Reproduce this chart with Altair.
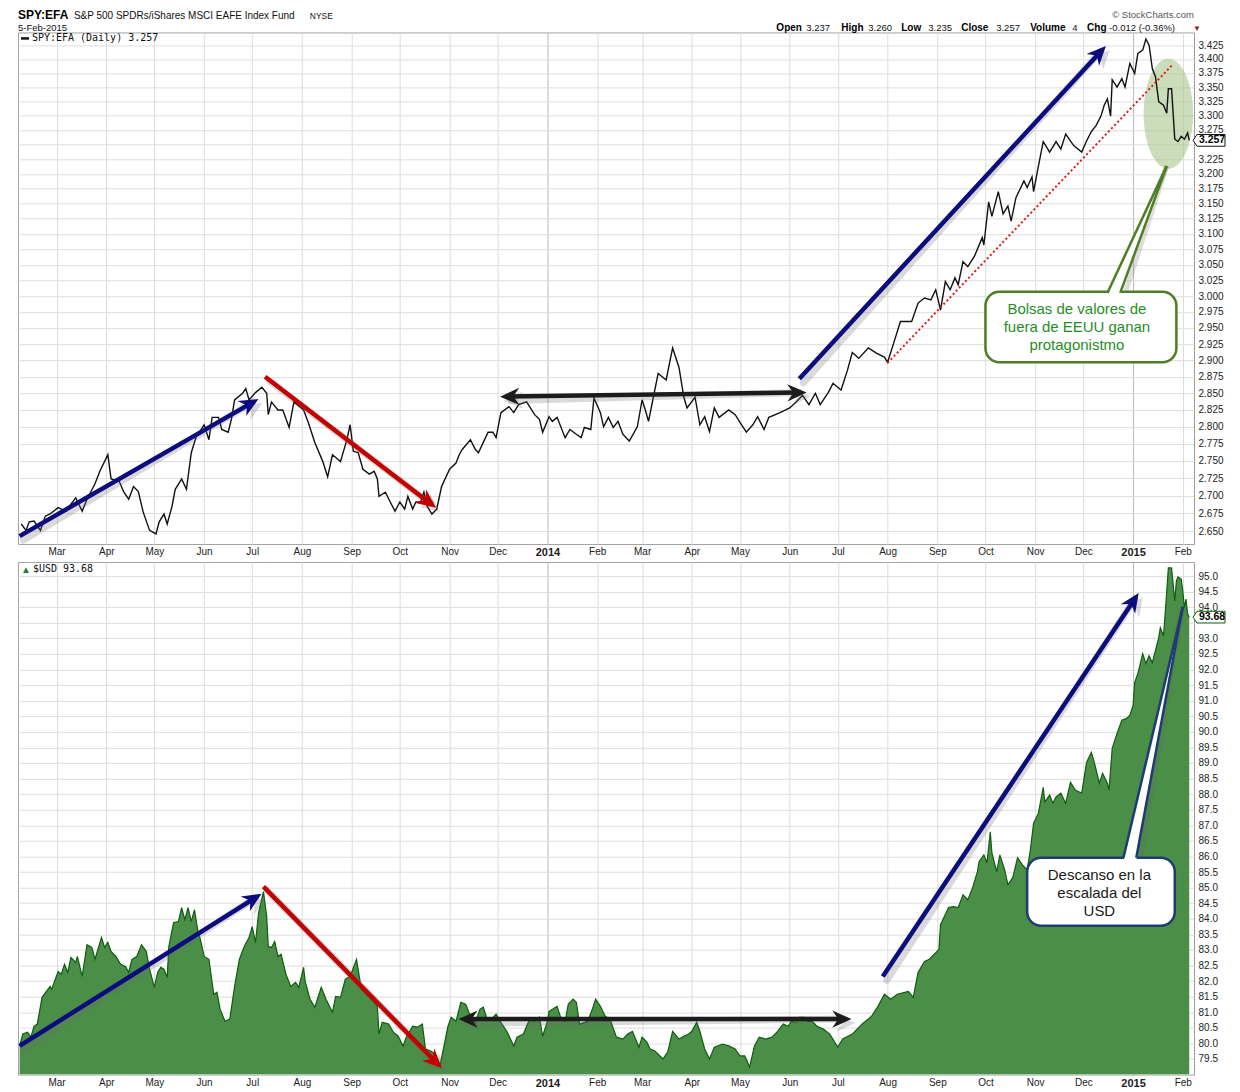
import altair as alt
import pandas as pd

# ------------------------------------------------------------------
# Values
# ------------------------------------------------------------------
spy_efa_dates = [
    "2013-02-07", "2013-02-10", "2013-02-12", "2013-02-15", "2013-02-19", "2013-02-22", "2013-02-25",
    "2013-03-02", "2013-03-07", "2013-03-10", "2013-03-13", "2013-03-17", "2013-03-20", "2013-03-25", "2013-03-28",
    "2013-04-02", "2013-04-04", "2013-04-09", "2013-04-12", "2013-04-15", "2013-04-18", "2013-04-21", "2013-04-24", "2013-04-28",
    "2013-05-02", "2013-05-04", "2013-05-07", "2013-05-09", "2013-05-12", "2013-05-14", "2013-05-18", "2013-05-21", "2013-05-24", "2013-05-27",
    "2013-06-01", "2013-06-04", "2013-06-06", "2013-06-10", "2013-06-12", "2013-06-16", "2013-06-18", "2013-06-20", "2013-06-25", "2013-06-27", "2013-06-29",
    "2013-07-03", "2013-07-07", "2013-07-10", "2013-07-11", "2013-07-13", "2013-07-17", "2013-07-20", "2013-07-24", "2013-07-27",
    "2013-08-02", "2013-08-05", "2013-08-09", "2013-08-14", "2013-08-17", "2013-08-20", "2013-08-25", "2013-08-29", "2013-08-31",
    "2013-09-02", "2013-09-05", "2013-09-08", "2013-09-12", "2013-09-15", "2013-09-17", "2013-09-18", "2013-09-22", "2013-09-25", "2013-09-28",
    "2013-10-01", "2013-10-04", "2013-10-06", "2013-10-09", "2013-10-11", "2013-10-14", "2013-10-16", "2013-10-18", "2013-10-21", "2013-10-24", "2013-10-27",
    "2013-11-01", "2013-11-05", "2013-11-07", "2013-11-09", "2013-11-14", "2013-11-17", "2013-11-19", "2013-11-22", "2013-11-25", "2013-11-28", "2013-11-30",
    "2013-12-03", "2013-12-08", "2013-12-11", "2013-12-14", "2013-12-19", "2013-12-24", "2013-12-27", "2013-12-29",
    "2014-01-02", "2014-01-04", "2014-01-07", "2014-01-12", "2014-01-15", "2014-01-19", "2014-01-22", "2014-01-24", "2014-01-28", "2014-01-30",
    "2014-02-03", "2014-02-05", "2014-02-08", "2014-02-11", "2014-02-14", "2014-02-17", "2014-02-21", "2014-02-26",
    "2014-03-01", "2014-03-03", "2014-03-05", "2014-03-08", "2014-03-11", "2014-03-16", "2014-03-20", "2014-03-24", "2014-03-27", "2014-03-29",
    "2014-04-03", "2014-04-06", "2014-04-09", "2014-04-12", "2014-04-15", "2014-04-18", "2014-04-24", "2014-04-28",
    "2014-05-02", "2014-05-05", "2014-05-09", "2014-05-12", "2014-05-16", "2014-05-19", "2014-05-26",
    "2014-06-01", "2014-06-05", "2014-06-09", "2014-06-13", "2014-06-17", "2014-06-20", "2014-06-25", "2014-06-28",
    "2014-07-03", "2014-07-07", "2014-07-10", "2014-07-14", "2014-07-20", "2014-07-25", "2014-07-30",
    "2014-08-01", "2014-08-05", "2014-08-09", "2014-08-16", "2014-08-20", "2014-08-24", "2014-08-28", "2014-08-31",
    "2014-09-03", "2014-09-06", "2014-09-09", "2014-09-12", "2014-09-14", "2014-09-17", "2014-09-20", "2014-09-24", "2014-09-29", "2014-09-30",
    "2014-10-03", "2014-10-05", "2014-10-09", "2014-10-12", "2014-10-15", "2014-10-17", "2014-10-20", "2014-10-25", "2014-10-27", "2014-10-30", "2014-10-31",
    "2014-11-03", "2014-11-06", "2014-11-10", "2014-11-14", "2014-11-17", "2014-11-20", "2014-11-25", "2014-11-30",
    "2014-12-03", "2014-12-06", "2014-12-09", "2014-12-12", "2014-12-14", "2014-12-16", "2014-12-18", "2014-12-19", "2014-12-22", "2014-12-25", "2014-12-27", "2014-12-30",
    "2015-01-02", "2015-01-04", "2015-01-07", "2015-01-09", "2015-01-11", "2015-01-13", "2015-01-15", "2015-01-17", "2015-01-20", "2015-01-22", "2015-01-23", "2015-01-25", "2015-01-27", "2015-01-29", "2015-01-31",
    "2015-02-02", "2015-02-04", "2015-02-05",
]
spy_efa_values = [
    2.660, 2.651, 2.663, 2.664, 2.651, 2.671, 2.674,
    2.683, 2.678, 2.688, 2.697, 2.678, 2.695, 2.717, 2.735,
    2.759, 2.724, 2.721, 2.705, 2.695, 2.713, 2.706, 2.677, 2.651,
    2.646, 2.663, 2.674, 2.660, 2.685, 2.709, 2.724, 2.709, 2.762, 2.785,
    2.803, 2.781, 2.814, 2.814, 2.796, 2.792, 2.811, 2.840, 2.850, 2.857, 2.840,
    2.851, 2.859, 2.850, 2.818, 2.837, 2.825, 2.825, 2.799, 2.837,
    2.825, 2.806, 2.777, 2.749, 2.727, 2.759, 2.749, 2.781, 2.803,
    2.764, 2.762, 2.738, 2.731, 2.735, 2.724, 2.699, 2.705, 2.691, 2.678,
    2.691, 2.681, 2.699, 2.681, 2.691, 2.691, 2.705, 2.685, 2.674, 2.681, 2.713,
    2.738, 2.747, 2.759, 2.767, 2.781, 2.767, 2.762, 2.777, 2.792, 2.792, 2.784,
    2.821, 2.830, 2.821, 2.833, 2.837, 2.818, 2.811, 2.792,
    2.815, 2.808, 2.814, 2.784, 2.796, 2.789, 2.784, 2.799, 2.796, 2.843,
    2.821, 2.800, 2.814, 2.799, 2.808, 2.789, 2.779, 2.800,
    2.840, 2.825, 2.808, 2.844, 2.880, 2.870, 2.919, 2.889, 2.844, 2.828,
    2.844, 2.803, 2.815, 2.793, 2.828, 2.814, 2.825, 2.818,
    2.803, 2.792, 2.803, 2.815, 2.796, 2.814, 2.821,
    2.828, 2.837, 2.847, 2.833, 2.850, 2.833, 2.851, 2.865,
    2.855, 2.885, 2.912, 2.903, 2.919, 2.911, 2.905,
    2.897, 2.928, 2.960, 2.960, 2.989, 2.997, 2.994, 3.010,
    2.978, 3.023, 3.010, 3.029, 3.018, 3.055, 3.047, 3.063, 3.094, 3.082,
    3.153, 3.129, 3.170, 3.133, 3.146, 3.121, 3.160, 3.188, 3.177, 3.195, 3.170,
    3.213, 3.255, 3.237, 3.255, 3.242, 3.268, 3.248, 3.237,
    3.256, 3.272, 3.283, 3.299, 3.318, 3.329, 3.299, 3.363, 3.350, 3.365, 3.350, 3.392,
    3.374, 3.410, 3.416, 3.436, 3.425, 3.383, 3.368, 3.324, 3.318, 3.304, 3.347, 3.347, 3.259, 3.255, 3.264,
    3.259, 3.270, 3.257,
]

usd_dates = [
    "2013-02-06", "2013-02-08", "2013-02-11", "2013-02-13", "2013-02-15", "2013-02-17", "2013-02-20", "2013-02-25", "2013-02-26",
    "2013-03-02", "2013-03-04", "2013-03-06", "2013-03-08", "2013-03-10", "2013-03-13", "2013-03-14", "2013-03-17", "2013-03-20", "2013-03-23", "2013-03-25", "2013-03-29", "2013-03-31",
    "2013-04-02", "2013-04-04", "2013-04-07", "2013-04-10", "2013-04-13", "2013-04-15", "2013-04-17", "2013-04-20", "2013-04-23", "2013-04-26", "2013-04-28",
    "2013-05-01", "2013-05-03", "2013-05-05", "2013-05-07", "2013-05-09", "2013-05-10", "2013-05-13", "2013-05-16", "2013-05-18", "2013-05-20", "2013-05-22", "2013-05-24", "2013-05-26", "2013-05-28", "2013-05-30",
    "2013-06-01", "2013-06-04", "2013-06-07", "2013-06-09", "2013-06-11", "2013-06-14", "2013-06-17", "2013-06-20", "2013-06-23", "2013-06-26", "2013-06-29",
    "2013-07-01", "2013-07-03", "2013-07-05", "2013-07-08", "2013-07-10", "2013-07-11", "2013-07-13", "2013-07-15", "2013-07-17", "2013-07-19", "2013-07-22", "2013-07-25", "2013-07-28", "2013-07-30",
    "2013-08-02", "2013-08-03", "2013-08-06", "2013-08-09", "2013-08-13", "2013-08-16", "2013-08-20", "2013-08-22", "2013-08-25", "2013-08-28", "2013-08-31",
    "2013-09-04", "2013-09-07", "2013-09-10", "2013-09-13", "2013-09-17", "2013-09-18", "2013-09-20", "2013-09-24", "2013-09-27", "2013-09-30",
    "2013-10-03", "2013-10-05", "2013-10-09", "2013-10-12", "2013-10-15", "2013-10-17", "2013-10-20", "2013-10-23", "2013-10-26", "2013-10-31",
    "2013-11-02", "2013-11-05", "2013-11-08", "2013-11-11", "2013-11-14", "2013-11-17", "2013-11-20", "2013-11-22", "2013-11-24", "2013-11-27", "2013-11-30",
    "2013-12-03", "2013-12-07", "2013-12-11", "2013-12-13", "2013-12-17", "2013-12-19", "2013-12-21", "2013-12-24", "2013-12-27", "2013-12-29",
    "2014-01-01", "2014-01-02", "2014-01-07", "2014-01-09", "2014-01-12", "2014-01-14", "2014-01-17", "2014-01-19", "2014-01-21", "2014-01-26", "2014-01-29", "2014-01-31",
    "2014-02-03", "2014-02-06", "2014-02-09", "2014-02-13", "2014-02-17", "2014-02-20", "2014-02-23", "2014-02-27",
    "2014-03-01", "2014-03-04", "2014-03-06", "2014-03-09", "2014-03-14", "2014-03-17", "2014-03-20", "2014-03-24", "2014-03-27", "2014-03-30",
    "2014-04-01", "2014-04-04", "2014-04-06", "2014-04-09", "2014-04-12", "2014-04-15", "2014-04-20", "2014-04-24", "2014-04-28",
    "2014-05-01", "2014-05-04", "2014-05-07", "2014-05-10", "2014-05-13", "2014-05-17", "2014-05-21", "2014-05-24", "2014-05-28", "2014-05-31",
    "2014-06-02", "2014-06-05", "2014-06-07", "2014-06-10", "2014-06-12", "2014-06-15", "2014-06-18", "2014-06-22", "2014-06-26", "2014-06-29",
    "2014-07-01", "2014-07-04", "2014-07-10", "2014-07-16", "2014-07-22", "2014-07-26", "2014-07-30",
    "2014-08-03", "2014-08-07", "2014-08-14", "2014-08-17", "2014-08-20", "2014-08-24", "2014-08-27", "2014-08-30",
    "2014-09-02", "2014-09-03", "2014-09-08", "2014-09-11", "2014-09-14", "2014-09-17", "2014-09-20", "2014-09-23", "2014-09-26", "2014-09-27", "2014-09-30",
    "2014-10-02", "2014-10-04", "2014-10-05", "2014-10-08", "2014-10-10", "2014-10-13", "2014-10-15", "2014-10-18", "2014-10-21", "2014-10-24", "2014-10-27", "2014-10-29", "2014-10-31",
    "2014-11-03", "2014-11-06", "2014-11-07", "2014-11-10", "2014-11-12", "2014-11-14", "2014-11-17", "2014-11-20", "2014-11-23", "2014-11-26", "2014-11-30",
    "2014-12-03", "2014-12-06", "2014-12-08", "2014-12-11", "2014-12-13", "2014-12-16", "2014-12-17", "2014-12-19", "2014-12-22", "2014-12-25", "2014-12-28", "2014-12-30",
    "2015-01-01", "2015-01-02", "2015-01-04", "2015-01-07", "2015-01-09", "2015-01-11", "2015-01-13", "2015-01-17", "2015-01-18", "2015-01-20", "2015-01-22", "2015-01-23", "2015-01-25", "2015-01-27", "2015-01-28", "2015-01-29", "2015-01-31",
    "2015-02-01", "2015-02-02", "2015-02-03", "2015-02-04", "2015-02-05",
]
usd_values = [
    79.92, 80.30, 80.36, 80.20, 80.55, 80.62, 81.48, 81.83, 81.74,
    82.31, 82.22, 82.54, 82.28, 82.76, 82.60, 82.79, 82.15, 83.17, 83.08, 82.70, 83.40, 83.08,
    83.24, 82.95, 82.79, 82.54, 82.47, 82.28, 82.70, 82.79, 83.17, 82.95, 82.38,
    81.80, 82.28, 82.44, 82.38, 82.12, 83.11, 83.88, 83.91, 84.36, 83.97, 84.36, 83.91, 84.29, 83.65, 83.27,
    82.79, 82.70, 81.58, 81.64, 81.10, 80.71, 80.78, 81.83, 82.70, 83.11, 83.40,
    83.75, 83.24, 84.20, 84.87, 84.07, 83.11, 83.08, 83.27, 82.79, 82.86, 82.22, 81.83, 81.96, 81.80,
    82.44, 81.99, 81.42, 81.16, 81.80, 81.42, 81.00, 81.51, 81.48, 82.06, 82.15,
    82.70, 81.74, 81.58, 81.42, 81.19, 80.30, 80.68, 80.62, 80.36, 80.23,
    79.92, 80.20, 80.55, 80.52, 80.62, 79.82, 79.76, 79.66, 79.28, 80.55,
    80.84, 80.71, 81.32, 81.26, 80.87, 80.68, 81.10, 81.16, 80.84, 80.78, 80.94,
    80.68, 80.36, 79.92, 80.20, 80.30, 80.55, 80.78, 80.71, 80.84, 80.23,
    80.71, 81.03, 81.19, 80.87, 80.71, 81.26, 81.42, 81.32, 80.62, 80.71, 81.10, 81.42,
    81.19, 80.87, 80.78, 80.20, 80.14, 80.30, 80.39, 79.88,
    80.20, 80.04, 79.82, 79.76, 79.50, 79.73, 80.39, 80.14, 80.23, 80.30,
    80.39, 80.68, 80.39, 79.82, 79.50, 79.88, 79.98, 79.92, 79.82,
    79.60, 79.60, 79.24, 79.92, 80.20, 80.14, 80.20, 80.36, 80.62, 80.55,
    80.71, 80.68, 80.84, 80.84, 80.71, 80.71, 80.55, 80.46, 80.30, 80.04,
    79.88, 80.14, 80.30, 80.62, 80.87, 81.19, 81.58,
    81.42, 81.58, 81.67, 81.48, 82.28, 82.63, 82.70, 82.86,
    83.02, 83.81, 84.36, 84.39, 84.36, 84.77, 84.61, 85.00, 85.51, 85.83, 86.05,
    85.80, 86.79, 86.12, 85.51, 86.05, 85.57, 85.09, 85.32, 85.96, 85.73, 85.57, 86.21, 87.07,
    87.39, 88.22, 87.75, 87.97, 87.71, 87.91, 88.03, 87.71, 88.38, 88.13, 88.03,
    89.02, 89.34, 88.99, 88.35, 88.67, 88.35, 88.13, 89.47, 89.95, 90.37, 90.43, 90.53,
    90.85, 91.58, 91.87, 92.51, 92.19, 92.44, 92.22, 93.02, 93.34, 93.08, 94.52, 95.26, 95.26, 94.20, 94.84, 94.97, 94.90,
    94.52, 93.98, 94.26, 93.79, 93.68,
]

spy_efa_last = 3.257
usd_last = 93.68

spy_efa_ticks = [2.650, 2.675, 2.700, 2.725, 2.750, 2.775, 2.800, 2.825, 2.850, 2.875,
                 2.900, 2.925, 2.950, 2.975, 3.000, 3.025, 3.050, 3.075, 3.100, 3.125,
                 3.150, 3.175, 3.200, 3.225, 3.250, 3.275, 3.300, 3.325, 3.350, 3.375,
                 3.400, 3.425]
usd_ticks = [79.5, 80.0, 80.5, 81.0, 81.5, 82.0, 82.5, 83.0, 83.5, 84.0, 84.5, 85.0,
             85.5, 86.0, 86.5, 87.0, 87.5, 88.0, 88.5, 89.0, 89.5, 90.0, 90.5, 91.0,
             91.5, 92.0, 92.5, 93.0, 93.5, 94.0, 94.5, 95.0]
# tick labels hidden behind the last-value tags in the reference
spy_efa_hidden_label = 3.250
usd_hidden_label = 93.5

# ---- annotations (data coordinates) ----
top_arrow_from_dates = ["2013-02-06", "2013-07-09", "2013-12-07", "2014-06-07"]
top_arrow_from_vals = [2.643, 2.875, 2.845, 2.872]
top_arrow_to_dates = ["2013-07-01", "2013-10-20", "2014-06-07", "2014-12-12"]
top_arrow_to_vals = [2.836, 2.689, 2.851, 3.414]
top_head_dates = ["2013-07-01", "2013-10-20", "2014-06-07", "2013-12-07", "2014-12-12"]
top_head_vals = [2.836, 2.689, 2.851, 2.845, 3.414]
top_head_angles = [60, 127, 89, 269, 43]

top_trend_dates = ["2014-08-01", "2015-01-26"]
top_trend_vals = [2.896, 3.391]

top_ellipse_date = "2015-01-23"
top_ellipse_val = 3.303

top_box_dates = ["2014-10-01", "2015-01-28"]
top_box_vals = [3.007, 2.897]
top_text_date = "2014-11-27"
top_text_vals = [2.979, 2.951, 2.923]
top_text_lines = ["Bolsas de valores de", "fuera de EEUU ganan", "protagonistmo"]
top_tail_dates = ["2014-12-16", "2014-12-24", "2015-01-22"]
top_tail_hi = [3.000, 3.046, 3.213]
top_tail_lo = [3.000, 3.000, 3.213]
top_tail_edge_base = 3.005

bot_arrow_from_dates = ["2013-02-06", "2013-07-08", "2013-11-11", "2014-07-29"]
bot_arrow_from_vals = [79.92, 85.03, 80.78, 82.15]
bot_arrow_to_dates = ["2013-07-03", "2013-10-24", "2014-07-05", "2015-01-02"]
bot_arrow_to_vals = [84.68, 79.37, 80.78, 94.26]
bot_head_dates = ["2013-07-03", "2013-10-24", "2014-07-05", "2013-11-11", "2015-01-02"]
bot_head_vals = [84.68, 79.37, 80.78, 80.78, 94.26]
bot_head_angles = [58, 135, 90, 270, 34]

bot_box_dates = ["2014-10-27", "2015-01-27"]
bot_box_vals = [85.96, 83.78]
bot_text_date = "2014-12-11"
bot_text_vals = [85.41, 84.84, 84.26]
bot_text_lines = ["Descanso en la", "escalada del", "USD"]
bot_tail_dates = ["2014-12-26", "2015-01-03", "2015-02-01"]
bot_tail_hi = [85.86, 87.62, 94.01]
bot_tail_lo = [85.86, 85.86, 94.01]
bot_tail_edge_base = 85.96

# ------------------------------------------------------------------
# Styling / layout
# ------------------------------------------------------------------
FONT = "Liberation Sans"
MONO = "DejaVu Sans Mono"
W = 1177
H_TOP = 512
H_BOT = 513
NAVY = "#0c0c7e"
RED = "#c40000"
BLACK = "#1c1c1c"
SHADOW = "#6a6a6a"
AREA_FILL = "#4a8e47"
AREA_LINE = "#0f5e0f"


def ms(d):
    return int(pd.Timestamp(d, tz="UTC").value // 10**6)


X_SCALE = alt.Scale(type="utc", domain=[ms("2013-02-05"), ms("2015-02-08")], nice=False)
TOP_SCALE = alt.Scale(type="log", domain=[2.632, 3.448], nice=False, zero=False)
BOT_SCALE = alt.Scale(type="linear", domain=[79.0, 95.45], nice=False, zero=False)
USD_FLOOR = 79.0

YEAR_TEST = "utcmonth(datum.value) == 0"
X_AXIS = alt.Axis(
    title=None,
    tickCount={"interval": "month", "step": 1},
    labelExpr="utcmonth(datum.value) == 0 ? utcFormat(datum.value, '%Y') : utcFormat(datum.value, '%b')",
    labelFontWeight={"condition": {"test": YEAR_TEST, "value": "bold"}, "value": "normal"},
    labelFontSize={"condition": {"test": YEAR_TEST, "value": 11}, "value": 10},
    labelColor="#222222",
    labelFont=FONT,
    labelPadding=3,
    ticks=False,
    domain=False,
    grid=True,
    gridColor={"condition": {"test": YEAR_TEST, "value": "#b8b8b8"}, "value": "#dcdcdc"},
    labelOverlap=False,
    labelFlush=False,
)


def y_axis(values, fmt, hidden):
    return alt.Axis(
        title=None,
        orient="right",
        values=values,
        labelExpr=f"abs(datum.value - {hidden}) < 0.0001 ? '' : format(datum.value, '{fmt}')",
        labelOverlap=False,
        labelFlush=False,
        labelPadding=4,
        labelFontSize=10,
        labelFont=FONT,
        labelColor="#222222",
        ticks=False,
        domain=True,
        domainColor="#8a8a8a",
        domainDash=[1, 2],
        grid=True,
        gridColor="#dedede",
    )


TOP_AXIS = y_axis(spy_efa_ticks, ".3f", spy_efa_hidden_label)
BOT_AXIS = y_axis(usd_ticks, ".1f", usd_hidden_label)


def X(field):
    return alt.X(f"{field}:T", scale=X_SCALE, axis=X_AXIS)


def YT(field):
    return alt.Y(f"{field}:Q", scale=TOP_SCALE, axis=TOP_AXIS)


def YB(field):
    return alt.Y(f"{field}:Q", scale=BOT_SCALE, axis=BOT_AXIS)


HEAD = "M0,-0.6 L0.72,1.0 L0,0.5 L-0.72,1.0 Z"
HEAD_SIZE = 576
ELLIPSE = "M-0.45,0 A0.45,1 0 1,1 0.45,0 A0.45,1 0 1,1 -0.45,0 Z"
TAG = "M-1.13,0 L-0.87,-0.39 L1,-0.39 L1,0.39 L-0.87,0.39 Z"


def one():
    return pd.DataFrame({"k": [0]})


def txt(text, x, y, size=10, weight="normal", color="#111111", align="left",
        baseline="alphabetic", font=FONT):
    return alt.Chart(one()).mark_text(
        text=text, align=align, baseline=baseline, fontSize=size,
        fontWeight=weight, color=color, font=font,
    ).encode(x=alt.value(x), y=alt.value(y))


def arrows(Yf, fd, fv, td, tv, colors, hd, hv, ha, hcolors):
    seg = pd.DataFrame({"x": [ms(d) for d in fd], "y": fv,
                        "x2": [ms(d) for d in td], "y2": tv, "c": colors})
    heads = pd.DataFrame({"x": [ms(d) for d in hd], "y": hv, "a": ha, "c": hcolors})
    sh = alt.Chart(seg).mark_rule(
        strokeWidth=7, color=SHADOW, opacity=0.25, xOffset=4, yOffset=4, strokeCap="round"
    ).encode(x=X("x"), y=Yf("y"), x2=alt.X2("x2"), y2=alt.Y2("y2"))
    hsh = alt.Chart(heads).mark_point(
        shape=HEAD, size=HEAD_SIZE, filled=True, color=SHADOW, opacity=0.25,
        xOffset=4, yOffset=4, strokeWidth=0,
    ).encode(x=X("x"), y=Yf("y"), angle=alt.Angle("a:Q", scale=None))
    ln = alt.Chart(seg).mark_rule(strokeWidth=4.5, strokeCap="butt").encode(
        x=X("x"), y=Yf("y"), x2=alt.X2("x2"), y2=alt.Y2("y2"),
        color=alt.Color("c:N", scale=None),
    )
    hd_ = alt.Chart(heads).mark_point(
        shape=HEAD, size=HEAD_SIZE, filled=True, opacity=1, strokeWidth=0
    ).encode(x=X("x"), y=Yf("y"), angle=alt.Angle("a:Q", scale=None),
             color=alt.Color("c:N", scale=None))
    return [sh, hsh, ln, hd_]


def callout(Yf, box_d, box_v, tail_d, tail_hi, tail_lo, edge_base, text_d, text_v,
            lines, stroke, text_color):
    box = pd.DataFrame({"x": [ms(box_d[0])], "x2": [ms(box_d[1])],
                        "y": [box_v[0]], "y2": [box_v[1]]})
    tail = pd.DataFrame({"x": [ms(d) for d in tail_d], "hi": tail_hi, "lo": tail_lo})
    edges = pd.DataFrame({"x": [ms(tail_d[0]), ms(tail_d[1])],
                          "y": [edge_base, edge_base],
                          "x2": [ms(tail_d[2]), ms(tail_d[2])],
                          "y2": [tail_hi[2], tail_hi[2]]})
    texts = pd.DataFrame({"x": [ms(text_d)] * len(lines), "y": text_v, "t": lines})
    layers = [
        alt.Chart(box).mark_rect(cornerRadius=14, color=SHADOW, opacity=0.3,
                                 xOffset=4, yOffset=4)
        .encode(x=X("x"), x2=alt.X2("x2"), y=Yf("y"), y2=alt.Y2("y2")),
        alt.Chart(edges).mark_rule(strokeWidth=5, color=SHADOW, opacity=0.22,
                                   xOffset=4, yOffset=3)
        .encode(x=X("x"), y=Yf("y"), x2=alt.X2("x2"), y2=alt.Y2("y2")),
        alt.Chart(box).mark_rect(cornerRadius=14, fill="white", stroke=stroke,
                                 strokeWidth=2.5, opacity=1)
        .encode(x=X("x"), x2=alt.X2("x2"), y=Yf("y"), y2=alt.Y2("y2")),
        alt.Chart(tail).mark_area(color="white", opacity=1, interpolate="linear")
        .encode(x=X("x"), y=Yf("hi"), y2=alt.Y2("lo")),
        alt.Chart(edges).mark_rule(strokeWidth=2.5, color=stroke)
        .encode(x=X("x"), y=Yf("y"), x2=alt.X2("x2"), y2=alt.Y2("y2")),
        alt.Chart(texts).mark_text(fontSize=15, font=FONT, color=text_color,
                                   align="center", baseline="middle")
        .encode(x=X("x"), y=Yf("y"), text="t:N"),
    ]
    return layers


# ------------------------------------------------------------------
# Top panel : SPY:EFA
# ------------------------------------------------------------------
spy_df = pd.DataFrame({"date": [ms(d) for d in spy_efa_dates], "v": spy_efa_values})
usd_df = pd.DataFrame({"date": [ms(d) for d in usd_dates], "v": usd_values})

ellipse_df = pd.DataFrame({"x": [ms(top_ellipse_date)], "y": [top_ellipse_val]})
trend_df = pd.DataFrame({"x": [ms(top_trend_dates[0])], "y": [top_trend_vals[0]],
                         "x2": [ms(top_trend_dates[1])], "y2": [top_trend_vals[1]]})

top_layers = [
    alt.Chart(ellipse_df).mark_point(shape=ELLIPSE, size=12100, filled=True,
                                     color="#a9c78c", opacity=0.6, strokeWidth=0)
    .encode(x=X("x"), y=YT("y")),
    alt.Chart(spy_df).mark_line(color="#111111", strokeWidth=1.4)
    .encode(x=X("date"), y=YT("v")),
    alt.Chart(trend_df).mark_rule(color="#e01515", strokeWidth=2, strokeDash=[2, 2.5])
    .encode(x=X("x"), y=YT("y"), x2=alt.X2("x2"), y2=alt.Y2("y2")),
]
top_layers += arrows(YT, top_arrow_from_dates, top_arrow_from_vals, top_arrow_to_dates,
                     top_arrow_to_vals, [NAVY, RED, BLACK, NAVY],
                     top_head_dates, top_head_vals, top_head_angles,
                     [NAVY, RED, BLACK, BLACK, NAVY])
top_layers += callout(YT, top_box_dates, top_box_vals, top_tail_dates, top_tail_hi,
                      top_tail_lo, top_tail_edge_base, top_text_date, top_text_vals,
                      top_text_lines, "#4f7d22", "#1f8f1f")

# legend line inside panel
top_layers += [
    alt.Chart(one()).mark_rule(color="#111111", strokeWidth=2.5)
    .encode(x=alt.value(3), x2=alt.value(11), y=alt.value(6)),
    txt("SPY:EFA (Daily) 3.257", 14, 6, size=10, baseline="middle", font=MONO),
]
# last-value tag
top_tag = pd.DataFrame({"v": [spy_efa_last], "t": [f"{spy_efa_last:.3f}"]})
top_layers += [
    alt.Chart(top_tag).mark_point(shape=TAG, size=900, fill="white", stroke="#111111",
                                  strokeWidth=1, opacity=1, fillOpacity=1)
    .encode(x=alt.value(W + 16), y=YT("v")),
    alt.Chart(top_tag).mark_text(fontSize=10.5, fontWeight="bold", font=FONT,
                                 color="#000000", align="center", baseline="middle")
    .encode(x=alt.value(W + 18), y=YT("v"), text="t:N"),
]
# header
R1 = -13.5
R2 = -1.5
top_layers += [
    txt("SPY:EFA", 0, R1, size=12, weight="bold", color="#000000"),
    txt("S&P 500 SPDRs/iShares MSCI EAFE Index Fund", 56, R1, size=10),
    txt("NYSE", 292, R1, size=8.5),
    txt("5-Feb-2015", 0, R2, size=9.5),
    txt("\u00a9 StockCharts.com", W, R1 - 1, size=9.5, color="#555555", align="right"),
    txt("Open", 759, R2, size=10, weight="bold", color="#000000"),
    txt("3.237", 789, R2, size=9.5),
    txt("High", 824, R2, size=10, weight="bold", color="#000000"),
    txt("3.260", 851, R2, size=9.5),
    txt("Low", 884, R2, size=10, weight="bold", color="#000000"),
    txt("3.235", 911, R2, size=9.5),
    txt("Close", 944, R2, size=10, weight="bold", color="#000000"),
    txt("3.257", 979, R2, size=9.5),
    txt("Volume", 1013, R2, size=10, weight="bold", color="#000000"),
    txt("4", 1055, R2, size=9.5),
    txt("Chg", 1070, R2, size=10, weight="bold", color="#000000"),
    txt("-0.012 (-0.36%)", 1092, R2, size=9.5),
    txt("\u25bc", 1176, R2, size=8, color="#8b1a1a"),
]

top = alt.layer(*top_layers).properties(width=W, height=H_TOP)

# ------------------------------------------------------------------
# Bottom panel : $USD
# ------------------------------------------------------------------
bot_layers = [
    alt.Chart(usd_df).mark_area(color=AREA_FILL, opacity=1, clip=True,
                                line={"color": AREA_LINE, "strokeWidth": 1.2})
    .encode(x=X("date"), y=YB("v"), y2=alt.datum(USD_FLOOR)),
]
bot_layers += arrows(YB, bot_arrow_from_dates, bot_arrow_from_vals, bot_arrow_to_dates,
                     bot_arrow_to_vals, [NAVY, RED, BLACK, NAVY],
                     bot_head_dates, bot_head_vals, bot_head_angles,
                     [NAVY, RED, BLACK, BLACK, NAVY])
bot_layers += callout(YB, bot_box_dates, bot_box_vals, bot_tail_dates, bot_tail_hi,
                      bot_tail_lo, bot_tail_edge_base, bot_text_date, bot_text_vals,
                      bot_text_lines, "#1f3c72", "#1a1a1a")
bot_tag = pd.DataFrame({"v": [usd_last], "t": [f"{usd_last:.2f}"]})
bot_layers += [
    txt("\u25b2", 3, 8, size=10, color="#2e7d2e", baseline="middle"),
    txt("$USD 93.68", 15, 7, size=10, baseline="middle", font=MONO),
    alt.Chart(bot_tag).mark_point(shape=TAG, size=900, fill="white", stroke="#0b5d0b",
                                  strokeWidth=1, opacity=1, fillOpacity=1)
    .encode(x=alt.value(W + 16), y=YB("v")),
    alt.Chart(bot_tag).mark_text(fontSize=10.5, fontWeight="bold", font=FONT,
                                 color="#000000", align="center", baseline="middle")
    .encode(x=alt.value(W + 18), y=YB("v"), text="t:N"),
]

bottom = alt.layer(*bot_layers).properties(width=W, height=H_BOT)

chart = (
    alt.vconcat(top, bottom, spacing=2)
    .resolve_scale(x="independent", y="independent")
    .properties(padding={"left": 8, "top": 0, "right": 4, "bottom": 2})
    .configure(font=FONT)
    .configure_view(stroke="#a4a4a4", strokeWidth=1)
)

chart.save("out.html", embed_options={"renderer": "svg", "actions": False})
